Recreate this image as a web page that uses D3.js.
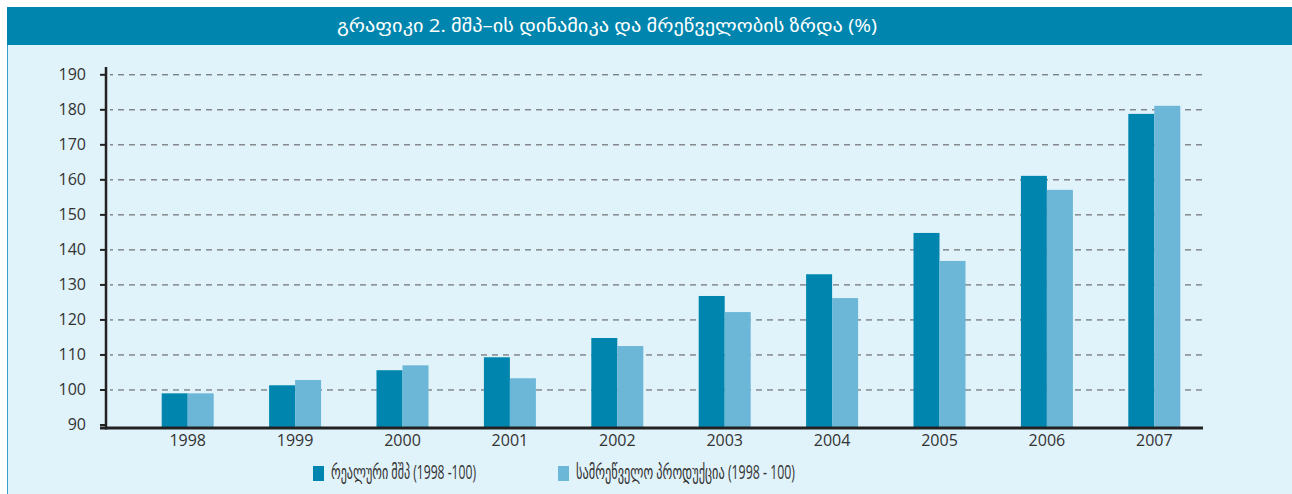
<!DOCTYPE html>
<html>
<head>
<meta charset="utf-8">
<script src="https://cdn.jsdelivr.net/npm/d3@7"></script>
<style>
  body { margin: 0; background: #fff; }
  text { font-family: "Open Sans", "DejaVu Sans", sans-serif; }
</style>
</head>
<body>
<div id="chart"></div>
<script>
// chart data
var years = ["1998", "1999", "2000", "2001", "2002", "2003", "2004", "2005", "2006", "2007"];
var realGdp = [98.9, 101.2, 105.5, 109.2, 114.7, 126.7, 132.9, 144.7, 161, 178.7];
var industry = [98.9, 102.7, 106.9, 103.2, 112.4, 122.1, 126.1, 136.7, 157, 181];
var yTicks = [90, 100, 110, 120, 130, 140, 150, 160, 170, 180, 190];
var seriesNames = ["რეალური მშპ (1998 -100)", "სამრეწველო პროდუქცია (1998 - 100)"];
var title = "გრაფიკი 2. მშპ–ის დინამიკა და მრეწველობის ზრდა (%)";

var W = 1292, H = 494;
var darkBlue = "#0086ae", lightBlue = "#6cb6d8";

var svg = d3.select("#chart").append("svg")
  .attr("width", W)
  .attr("height", H);

// frame + title bar
svg.append("rect")
  .attr("x", 7).attr("y", 7).attr("width", W - 7).attr("height", H - 7)
  .attr("fill", "#e0f2fa");
svg.append("line")
  .attr("x1", 7.5).attr("x2", 7.5).attr("y1", 7).attr("y2", H)
  .attr("stroke", "#3a9cc6").attr("stroke-width", 1);
svg.append("rect")
  .attr("x", 7).attr("y", 7).attr("width", W - 7).attr("height", 38)
  .attr("fill", darkBlue);
svg.append("text")
  .attr("x", 337).attr("y", 27)
  .attr("dominant-baseline", "middle")
  .attr("fill", "#fff")
  .attr("textLength", 540)
  .attr("lengthAdjust", "spacingAndGlyphs")
  .style("font-size", "18px")
  .text(title);

// scales
var x0 = d3.scaleBand().domain(years).range([134, 1208]).paddingInner(0.516).paddingOuter(0.258);
var x1 = d3.scaleBand().domain([0, 1]).range([0, x0.bandwidth()]);
var y = d3.scaleLinear().domain([90, 190]).range([424.5, 74.3]);
var baseY = 428;

// grid lines
var grid = svg.append("g")
  .attr("transform", "translate(1202,0)")
  .call(d3.axisLeft(y).tickValues(yTicks.slice(1)).tickSize(1092).tickFormat(""));
grid.select(".domain").remove();
grid.selectAll("line")
  .attr("stroke", "#555")
  .attr("stroke-dasharray", "6,5")
  .attr("stroke-width", 1);

// bars
var groups = svg.append("g").selectAll("g")
  .data(years)
  .enter().append("g")
  .attr("transform", function(d) { return "translate(" + x0(d) + ",0)"; });

groups.selectAll("rect")
  .data(function(d, i) { return [realGdp[i], industry[i]]; })
  .enter().append("rect")
  .attr("x", function(d, j) { return x1(j); })
  .attr("width", x1.bandwidth())
  .attr("y", function(d) { return y(d); })
  .attr("height", function(d) { return baseY - y(d); })
  .attr("fill", function(d, j) { return j === 0 ? darkBlue : lightBlue; });

// y axis
var yAxis = svg.append("g")
  .attr("transform", "translate(106,0)")
  .call(d3.axisLeft(y).tickValues(yTicks).tickSize(6).tickPadding(14));
yAxis.select(".domain").remove();
yAxis.selectAll("line").attr("stroke", "#222").attr("stroke-width", 2);
yAxis.selectAll("text")
  .attr("fill", "#333")
  .style("font-size", "16px");
svg.append("line")
  .attr("x1", 106).attr("x2", 106).attr("y1", 67).attr("y2", baseY + 1.5)
  .attr("stroke", "#222").attr("stroke-width", 2.5);

// x axis
var xAxis = svg.append("g")
  .attr("transform", "translate(0," + baseY + ")")
  .call(d3.axisBottom(x0).tickSize(0).tickPadding(7));
xAxis.select(".domain").remove();
xAxis.selectAll("text")
  .attr("fill", "#333")
  .style("font-size", "16px");
svg.append("line")
  .attr("x1", 100).attr("x2", 1203).attr("y1", baseY).attr("y2", baseY)
  .attr("stroke", "#222").attr("stroke-width", 3);

// legend
var legendX = [313, 558];
var legendLen = [145, 219];
var legend = svg.append("g").selectAll("g")
  .data(seriesNames)
  .enter().append("g")
  .attr("transform", function(d, i) { return "translate(" + legendX[i] + ",466)"; });
legend.append("rect")
  .attr("width", 11).attr("height", 15)
  .attr("fill", function(d, i) { return i === 0 ? darkBlue : lightBlue; });
legend.append("text")
  .attr("x", 18).attr("y", 8)
  .attr("dominant-baseline", "middle")
  .attr("fill", "#333")
  .attr("textLength", function(d, i) { return legendLen[i]; })
  .attr("lengthAdjust", "spacingAndGlyphs")
  .style("font-size", "20px")
  .text(function(d) { return d; });
</script>
</body>
</html>
